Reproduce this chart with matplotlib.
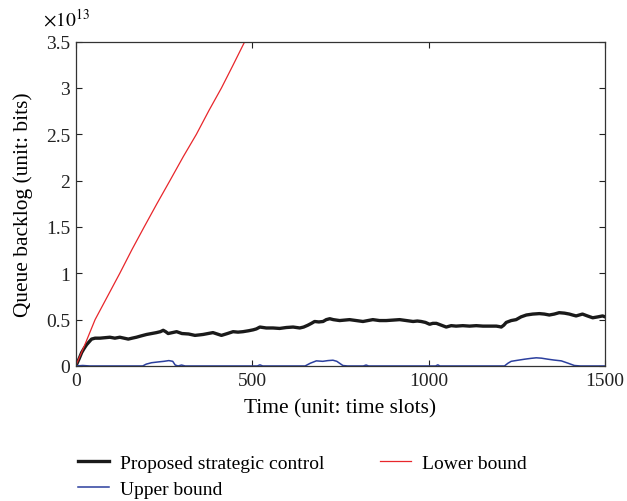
import matplotlib
matplotlib.use('Agg')
import matplotlib.pyplot as plt

# valores, en unidades de 1e13 bits
t_propuesto = [0, 3, 10, 17, 24, 31, 38, 45, 55, 69, 83, 97, 111, 125, 137, 149, 160, 172, 186,
               201, 215, 229, 240, 248, 255, 262, 274, 286, 301, 320, 338, 350, 361, 375, 389,
               401, 413, 430, 446, 460, 474, 490, 503, 512, 522, 540, 559, 578, 597, 616, 635,
               646, 658, 668, 677, 689, 701, 710, 720, 730, 748, 762, 776, 795, 814, 828, 842,
               861, 880, 899, 918, 937, 956, 968, 979, 991, 1003, 1012, 1022, 1036, 1050, 1064,
               1078, 1097, 1116, 1135, 1154, 1173, 1192, 1200, 1206, 1213, 1220, 1234, 1248,
               1262, 1277, 1295, 1314, 1328, 1342, 1356, 1370, 1385, 1399, 1408, 1418, 1427,
               1436, 1450, 1465, 1480, 1493, 1500]
v_propuesto = [0, 0.02, 0.08, 0.145, 0.19, 0.23, 0.26, 0.29, 0.30, 0.30, 0.305, 0.31, 0.30,
               0.31, 0.30, 0.29, 0.30, 0.31, 0.325, 0.34, 0.35, 0.36, 0.37, 0.385, 0.37, 0.35,
               0.36, 0.37, 0.35, 0.345, 0.33, 0.335, 0.34, 0.35, 0.36, 0.345, 0.33, 0.35, 0.37,
               0.365, 0.37, 0.38, 0.39, 0.40, 0.42, 0.41, 0.41, 0.405, 0.415, 0.42, 0.41, 0.42,
               0.44, 0.46, 0.48, 0.475, 0.48, 0.50, 0.51, 0.50, 0.49, 0.495, 0.50, 0.49, 0.48,
               0.49, 0.50, 0.49, 0.49, 0.495, 0.50, 0.49, 0.48, 0.485, 0.48, 0.47, 0.45, 0.46,
               0.46, 0.44, 0.42, 0.435, 0.43, 0.435, 0.43, 0.435, 0.43, 0.43, 0.43, 0.425, 0.42,
               0.44, 0.47, 0.49, 0.50, 0.53, 0.55, 0.56, 0.565, 0.56, 0.55, 0.56, 0.575, 0.57,
               0.56, 0.55, 0.54, 0.55, 0.56, 0.54, 0.52, 0.53, 0.54, 0.53]

t_inferior = [0, 25, 55, 90, 125, 160, 194, 230, 267, 305, 342, 378, 413, 445, 479, 500]
v_inferior = [0, 0.22, 0.5, 0.75, 1.0, 1.26, 1.5, 1.75, 2.0, 2.26, 2.5, 2.76, 3.0, 3.24, 3.5, 3.65]

t_superior = [0, 20, 40, 190, 200, 215, 235, 250, 264, 275, 282, 290, 300, 310, 515, 522,
              530, 650, 665, 682, 700, 715, 729, 740, 757, 770, 815, 823, 830, 1020, 1026,
              1032, 1215, 1225, 1234, 1250, 1272, 1290, 1305, 1320, 1338, 1355, 1376, 1395,
              1413, 1430, 1500]
v_superior = [0, 0.005, 0, 0, 0.02, 0.035, 0.044, 0.05, 0.058, 0.05, 0.01, 0, 0.01, 0, 0,
              0.012, 0, 0, 0.03, 0.055, 0.05, 0.058, 0.062, 0.05, 0.005, 0, 0, 0.01, 0, 0,
              0.012, 0, 0, 0.03, 0.05, 0.06, 0.073, 0.082, 0.088, 0.084, 0.073, 0.064, 0.055,
              0.03, 0.005, 0, 0]

etiquetas = ('Proposed strategic control', 'Upper bound', 'Lower bound')
colores = ('#1a1a1a', '#2b3f9e', '#e8262b')

plt.rcParams['font.family'] = ['Liberation Serif', 'DejaVu Serif']
plt.rcParams['mathtext.fontset'] = 'stix'

fig = plt.figure(figsize=(6.27, 5.02), dpi=100)
ax = fig.add_axes([0.1207, 0.269, 0.8443, 0.646])

l1, = ax.plot(t_propuesto, v_propuesto, color=colores[0], lw=2.4)
l3, = ax.plot(t_inferior, v_inferior, color=colores[2], lw=0.9)
l2, = ax.plot(t_superior, v_superior, color=colores[1], lw=1.1)

ax.set_xlim(0, 1500)
ax.set_ylim(0, 3.5)
ax.set_xticks([0, 500, 1000, 1500])
ax.set_yticks([0, 0.5, 1, 1.5, 2, 2.5, 3, 3.5])
ax.set_yticklabels(['0', '0.5', '1', '1.5', '2', '2.5', '3', '3.5'])
ax.tick_params(direction='in', top=True, right=True, length=4, width=0.8,
               labelsize=14, colors='#222222', pad=4)
for s in ax.spines.values():
    s.set_color('#333333')
    s.set_linewidth(0.9)

ax.set_xlabel('Time (unit: time slots)', fontsize=15.4, labelpad=7)
ax.set_ylabel('Queue backlog (unit: bits)', fontsize=15.4, labelpad=9)
fig.text(0.068, 0.94, r'$\times10^{13}$', fontsize=14, ha='left', va='bottom')

fig.legend([l1, l2, l3], etiquetas, ncol=2, loc='upper left',
           bbox_to_anchor=(0.124, 0.093), frameon=False, fontsize=14,
           handlelength=1.6, handletextpad=0.55, columnspacing=2.9,
           labelspacing=0.45, borderpad=0, borderaxespad=0)

fig.savefig('out.png', dpi=100)
